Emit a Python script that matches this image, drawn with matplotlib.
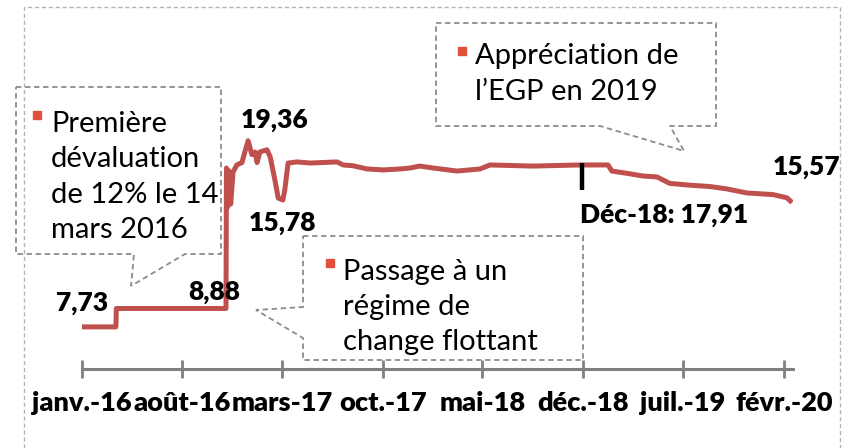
import matplotlib
matplotlib.use("Agg")
import matplotlib.pyplot as plt
from matplotlib.patches import Polygon, Rectangle
from matplotlib.lines import Line2D
import pandas as pd

# EGP / USD exchange rate
dates = ["2016-01-01", "2016-03-13", "2016-03-14", "2016-11-02", "2016-11-03",
         "2016-11-05", "2016-11-08", "2016-11-12", "2016-11-17", "2016-11-25",
         "2016-12-06", "2016-12-12", "2016-12-19", "2016-12-27", "2017-01-03",
         "2017-01-07", "2017-01-13", "2017-01-28", "2017-02-04", "2017-02-14",
         "2017-02-21", "2017-03-03", "2017-03-07", "2017-03-14", "2017-04-02",
         "2017-04-30", "2017-06-26", "2017-07-09", "2017-07-30", "2017-08-29",
         "2017-10-02", "2017-11-07", "2017-11-28", "2017-12-19", "2018-01-16",
         "2018-03-08", "2018-04-26", "2018-05-17", "2018-08-16", "2018-11-24",
         "2019-01-23", "2019-01-31", "2019-03-10", "2019-04-07", "2019-05-07",
         "2019-06-03", "2019-07-10", "2019-08-28", "2019-10-03", "2019-11-14",
         "2020-01-08", "2020-02-07", "2020-02-18"]
rates = [7.73, 7.73, 8.88, 8.88, 17.66,
         15.2, 17.5, 15.4, 17.4, 17.85,
         18.0, 18.66, 19.36, 18.5, 18.66,
         18.0, 18.66, 18.8, 18.35, 16.9,
         15.78, 15.66, 16.3, 17.97, 18.04,
         17.97, 18.04, 17.85, 17.8, 17.6,
         17.54, 17.6, 17.66, 17.78, 17.66,
         17.47, 17.6, 17.85, 17.78, 17.85,
         17.85, 17.47, 17.3, 17.16, 17.1,
         16.7, 16.6, 16.5, 16.35, 16.1,
         16.0, 15.8, 15.5]

tick_dates = ["2016-01-01", "2016-08-01", "2017-03-01", "2017-10-01",
              "2018-05-01", "2018-12-01", "2019-07-01", "2020-02-01"]
tick_labels = ["janv.-16", "août-16", "mars-17", "oct.-17",
               "mai-18", "déc.-18", "juil.-19", "févr.-20"]

dec18_date = "2018-11-28"
dec18_range = [16.3, 18.0]

W, H = 851, 448
plt.rcParams["font.family"] = ["Lato", "DejaVu Sans"]

fig = plt.figure(figsize=(W / 100, H / 100), dpi=100)


def fx(x, y):
    return (x / W, 1 - y / H)


ax = fig.add_axes([82 / W, 1 - 369 / H, (793 - 82) / W, (369 - 10) / H])
ax.plot(pd.to_datetime(dates), rates, color="#C0504D", lw=3.6,
        solid_joinstyle="round", solid_capstyle="butt")
ax.plot(pd.to_datetime([dec18_date, dec18_date]), dec18_range,
        color="black", lw=3.2, solid_capstyle="butt")

ax.set_xlim(pd.Timestamp("2016-01-01"), pd.Timestamp("2020-02-20"))
ax.set_ylim(5.0975, 27.535)
ax.set_xticks(pd.to_datetime(tick_dates))
ax.set_xticklabels(tick_labels, fontsize=19.5, fontweight="heavy")
ax.tick_params(axis="x", direction="inout", length=13, width=2,
               color="#808080", pad=9)
ax.set_yticks([])
for s in ["left", "right", "top"]:
    ax.spines[s].set_visible(False)
ax.spines["bottom"].set_color("#808080")
ax.spines["bottom"].set_linewidth(2.2)
ax.patch.set_alpha(0)

# outer dashed border (bottom cut off)
border = [fx(24, 448), fx(24, 7), fx(840, 7), fx(840, 448)]
fig.add_artist(Line2D([p[0] for p in border], [p[1] for p in border],
                      transform=fig.transFigure, color="#b5b5b5", lw=1,
                      linestyle=(0, (3, 2))))

# callouts
callouts = [
    [(16, 87), (221, 87), (221, 254), (185, 254), (131, 286), (134, 254), (16, 254)],
    [(436, 23), (716, 23), (716, 126), (670, 126), (684, 151), (600, 126), (436, 126)],
    [(303, 236), (583, 236), (583, 360), (303, 360), (303, 338), (256, 310), (303, 307)],
]
for pts in callouts:
    fig.add_artist(Polygon([fx(*p) for p in pts], closed=True, fill=False,
                           edgecolor="#8c8c8c", lw=1.3, linestyle=(0, (3, 2)),
                           transform=fig.transFigure))

notes = [
    ("Première\ndévaluation\nde 12% le 14\nmars 2016", 51, 177, 33, 111),
    ("Appréciation de\nl\u2019EGP en 2019", 475, 74, 458, 47),
    ("Passage à un\nrégime de\nchange flottant", 343, 307, 326, 259),
]
for txt, x, y, bx, by in notes:
    fig.text(*fx(x, y), txt, fontsize=21, va="center", ha="left",
             linespacing=1.45, color="black")
    fig.add_artist(Rectangle(fx(bx, by + 8), 8 / W, 8 / H, color="#E0503C",
                             transform=fig.transFigure))

# data labels
labels = [("19,36", 275, 120), ("15,78", 282, 223), ("7,73", 82, 303),
          ("8,88", 214, 292), ("15,57", 807, 167), ("Déc-18: 17,91", 664, 215)]
for txt, x, y in labels:
    fig.text(*fx(x, y), txt, fontsize=19, fontweight="heavy",
             ha="center", va="center")

fig.savefig("out.png", dpi=100)
